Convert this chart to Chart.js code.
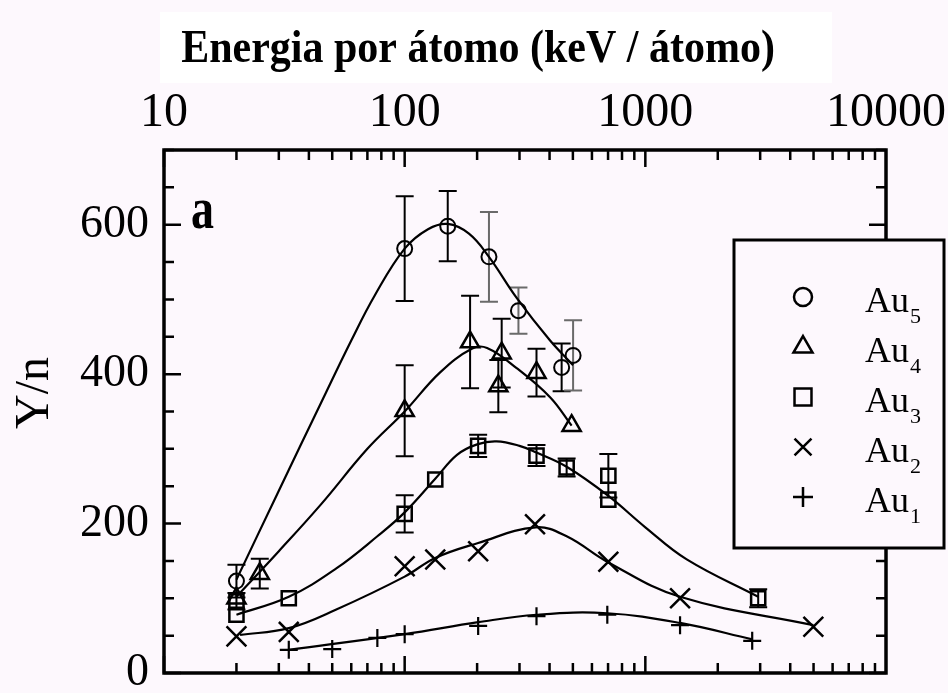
<!DOCTYPE html>
<html><head><meta charset="utf-8">
<script src="https://cdn.jsdelivr.net/npm/chart.js@4.4.1/dist/chart.umd.min.js"></script>
<style>html,body{margin:0;padding:0;background:#fdf8fd;}#wrap{width:948px;height:693px;position:relative}</style>
</head><body><div id="wrap"><canvas id="c" width="948" height="693"></canvas></div>
<script>
// ---- axis ticks ----
const xTicks = [10, 100, 1000, 10000];
const xTickLabels = ['10', '100', '1000', '10000'];
const yTicks = [0, 200, 400, 600];
const titleText = 'Energia por átomo (keV / átomo)';
const yTitle = 'Y/n';
const panelLabel = 'a';
const legendBase = 'Au';
const legendSubs = ['5', '4', '3', '2', '1'];

// ---- measured points (energy keV/atom, Y/n, error) ----
const au5X = [20, 100, 151, 224, 297, 449, 501];
const au5Y = [123, 568, 598, 557, 485, 409, 425];
const au5Err = [22, 70, 47, 60, 31, 32, 47];
const au5Grey = [0, 0, 0, 1, 1, 0, 1];

const au4X = [20, 25, 100, 187, 253, 245, 353, 494];
const au4Y = [100, 133, 351, 443, 428, 384, 402, 331];
const au4Err = [0, 20, 61, 62, 46, 35, 32, 0];
const au4Grey = [0, 0, 0, 0, 0, 0, 0, 0];

const au3X = [20, 20, 33, 100, 134, 202, 353, 471, 702, 702, 2944];
const au3Y = [96, 78, 100, 213, 259, 304, 291, 275, 264, 232, 100];
const au3Err = [11, 0, 0, 25, 0, 15, 14, 12, 29, 0, 12];
const au3Grey = [0, 0, 0, 0, 0, 0, 0, 0, 0, 0, 0];

const au2X = [20, 33, 100, 134, 202, 348, 702, 1394, 4990];
const au2Y = [49, 55, 143, 152, 163, 199, 149, 100, 62];

const au1X = [33, 50, 77, 100, 202, 353, 695, 1394, 2780];
const au1Y = [31, 32, 47, 52, 63, 76, 78, 64, 43];

// ---- fitted curves ----
const au5FitX = [20, 30, 45, 60, 75, 100, 125, 151, 185, 224, 292, 402, 501];
const au5FitY = [125, 244, 362, 445, 505, 568, 594, 601, 588, 557, 502, 445, 412];
const au4FitX = [20, 30, 45, 70, 100, 140, 190, 220, 292, 402, 494];
const au4FitY = [102, 163, 226, 300, 350, 402, 434, 435, 408, 369, 331];
const au3FitX = [20, 33, 52, 77, 100, 134, 165, 200, 241, 300, 353, 471, 702, 1000, 1486, 2944];
const au3FitY = [78, 102, 140, 183, 215, 260, 292, 306, 310, 304, 295, 276, 237, 195, 152, 102];
const au2FitX = [20.7, 33, 52, 100, 134, 202, 350, 471, 702, 1394, 4990];
const au2FitY = [51, 60, 85, 129, 154, 174, 195, 183, 148, 102, 64];
const au1FitX = [33, 100, 202, 353, 695, 1394, 2780];
const au1FitY = [31, 52, 68, 78, 80, 67, 45];

const BG = '#fdf8fd';
const toPts = (xs, ys) => xs.map((x, i) => ({x: x, y: ys[i]}));

const markerSets = [
  {label: 'Au5', xs: au5X, ys: au5Y, err: au5Err, grey: au5Grey, style: 'circle', r: 7.5, bw: 2},
  {label: 'Au4', xs: au4X, ys: au4Y, err: au4Err, grey: au4Grey, style: 'triangle', r: 10.5, bw: 2.5},
  {label: 'Au3', xs: au3X, ys: au3Y, err: au3Err, grey: au3Grey, style: 'rect', r: 10, bw: 2.5},
  {label: 'Au2', xs: au2X, ys: au2Y, err: null, grey: null, style: 'crossRot', r: 14, bw: 2.5},
  {label: 'Au1', xs: au1X, ys: au1Y, err: null, grey: null, style: 'cross', r: 9, bw: 2.2}
];
const fitSets = [
  [au5FitX, au5FitY], [au4FitX, au4FitY], [au3FitX, au3FitY], [au2FitX, au2FitY], [au1FitX, au1FitY]
];

const datasets = [];
markerSets.forEach(m => {
  datasets.push({
    label: m.label, data: toPts(m.xs, m.ys), showLine: false,
    pointStyle: m.style, pointRadius: m.r, pointBorderWidth: m.bw,
    pointBorderColor: '#000', pointBackgroundColor: 'rgba(0,0,0,0)',
    borderColor: '#000', backgroundColor: 'rgba(0,0,0,0)', order: 0,
    errors: m.err, greys: m.grey
  });
});
fitSets.forEach((f, i) => {
  datasets.push({
    label: markerSets[i].label + ' fit', data: toPts(f[0], f[1]), showLine: true,
    pointRadius: 0, borderColor: '#000', borderWidth: 2.2, tension: 0.4,
    fill: false, order: 1
  });
});

const zeroPad = s => { s.paddingTop = 0; s.paddingBottom = 0; s.paddingLeft = 0; s.paddingRight = 0; };

const decorPlugin = {
  id: 'decor',
  beforeDraw(chart) {
    const ctx = chart.ctx;
    ctx.save();
    ctx.fillStyle = BG;
    ctx.fillRect(0, 0, chart.width, chart.height);
    ctx.fillStyle = '#ffffff';
    ctx.fillRect(160, 12, 672, 71);
    ctx.restore();
  },
  beforeDatasetsDraw(chart) {
    const ctx = chart.ctx, xs = chart.scales.x, ys = chart.scales.y;
    ctx.save();
    ctx.lineWidth = 2;
    chart.data.datasets.forEach(ds => {
      if (!ds.errors) return;
      ds.data.forEach((p, i) => {
        const e = ds.errors[i];
        if (!e) return;
        const px = xs.getPixelForValue(p.x);
        const y1 = ys.getPixelForValue(p.y + e), y2 = ys.getPixelForValue(p.y - e);
        ctx.strokeStyle = ds.greys && ds.greys[i] ? '#6a6a6a' : '#000';
        ctx.beginPath();
        ctx.moveTo(px, y1); ctx.lineTo(px, y2);
        ctx.moveTo(px - 9, y1); ctx.lineTo(px + 9, y1);
        ctx.moveTo(px - 9, y2); ctx.lineTo(px + 9, y2);
        ctx.stroke();
      });
    });
    ctx.restore();
  },
  afterDraw(chart) {
    const ctx = chart.ctx, a = chart.chartArea, xs = chart.scales.x, ys = chart.scales.y;
    ctx.save();
    ctx.strokeStyle = '#000';
    // inward ticks
    ctx.lineWidth = 2.5;
    ctx.beginPath();
    [10, 100, 1000].forEach(d => {
      for (let m = 1; m <= 9; m++) {
        const v = d * m;
        const px = xs.getPixelForValue(v);
        const len = m === 1 ? 17 : 10;
        ctx.moveTo(px, a.top); ctx.lineTo(px, a.top + len);
        ctx.moveTo(px, a.bottom); ctx.lineTo(px, a.bottom - len);
      }
    });
    for (let v = 0; v <= 700; v += 50) {
      const py = ys.getPixelForValue(v);
      const len = v % 200 === 0 ? 17 : 10;
      ctx.moveTo(a.left, py); ctx.lineTo(a.left + len, py);
      ctx.moveTo(a.right, py); ctx.lineTo(a.right - len, py);
    }
    ctx.stroke();
    // frame
    ctx.lineWidth = 3.5;
    ctx.strokeRect(a.left, a.top, a.right - a.left, a.bottom - a.top);

    // legend box
    const lx = 734, ly = 240, lw = 210, lh = 308;
    ctx.fillStyle = BG;
    ctx.fillRect(lx, ly, lw, lh);
    ctx.lineWidth = 3;
    ctx.strokeRect(lx, ly, lw, lh);
    const legSizes = [9, 11, 12, 12, 10];
    markerSets.forEach((m, i) => {
      const base = 312 + i * 50;
      ctx.fillStyle = 'rgba(0,0,0,0)';
      ctx.strokeStyle = '#000';
      ctx.lineWidth = 2.5;
      Chart.helpers.drawPoint(ctx, {pointStyle: m.style, radius: legSizes[i], borderWidth: 2.5, rotation: 0}, 803, base - 15);
      ctx.fillStyle = '#000';
      ctx.textAlign = 'left';
      ctx.textBaseline = 'alphabetic';
      ctx.font = '36px "Liberation Serif"';
      ctx.fillText(legendBase, 865, base);
      const w = ctx.measureText(legendBase).width;
      ctx.font = '22px "Liberation Serif"';
      ctx.fillText(legendSubs[i], 865 + w + 1, base + 11);
    });

    // title
    ctx.fillStyle = '#000';
    ctx.textAlign = 'center';
    ctx.textBaseline = 'alphabetic';
    ctx.font = 'bold 42px "Liberation Serif"';
    ctx.save();
    ctx.translate(478, 62);
    ctx.scale(1, 1.1);
    ctx.fillText(titleText, 0, 0);
    ctx.restore();
    // y axis title
    ctx.save();
    ctx.translate(35, 393);
    ctx.rotate(-Math.PI / 2);
    ctx.textAlign = 'center';
    ctx.textBaseline = 'middle';
    ctx.font = '48px "Liberation Serif"';
    ctx.fillText(yTitle, 0, 0);
    ctx.restore();
    // panel label
    ctx.textAlign = 'left';
    ctx.font = 'bold 46px "Liberation Serif"';
    ctx.save();
    ctx.translate(191, 228);
    ctx.scale(1, 1.3);
    ctx.fillText(panelLabel, 0, 0);
    ctx.restore();
    ctx.restore();
  }
};

new Chart(document.getElementById('c'), {
  type: 'scatter',
  data: {datasets: datasets},
  options: {
    responsive: false, animation: false, events: [],
    layout: {autoPadding: false, padding: {left: 0, top: 0, right: 62, bottom: 20}},
    plugins: {legend: {display: false}, tooltip: {enabled: false}, title: {display: false}},
    scales: {
      x: {
        type: 'logarithmic', position: 'top', min: 10, max: 10000,
        grid: {display: false, drawTicks: false}, border: {display: false},
        afterBuildTicks: s => { s.ticks = xTicks.map(v => ({value: v})); },
        afterFit: s => { s.height = 150; zeroPad(s); },
        ticks: {
          autoSkip: false, maxRotation: 0, padding: 8, color: '#000',
          font: {family: 'Liberation Serif', size: 48},
          callback: v => { const i = xTicks.indexOf(v); return i >= 0 ? xTickLabels[i] : ''; }
        }
      },
      y: {
        type: 'linear', min: 0, max: 700,
        grid: {display: false, drawTicks: false}, border: {display: false},
        afterBuildTicks: s => { s.ticks = yTicks.map(v => ({value: v})); },
        afterFit: s => { s.width = 164; zeroPad(s); },
        ticks: {padding: 15, color: '#000', font: {family: 'Liberation Serif', size: 46}},
        title: {display: false}
      }
    }
  },
  plugins: [decorPlugin]
});
</script></body></html>
